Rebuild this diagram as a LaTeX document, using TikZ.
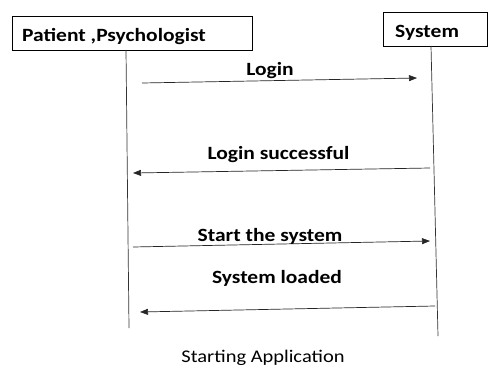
\documentclass[tikz,border=0pt]{standalone}
\usepackage{fontspec}
\setmainfont[FakeStretch=1.15]{Carlito}
\usetikzlibrary{arrows.meta}
\begin{document}
\begin{tikzpicture}[x=1pt,y=-1pt,
  life/.style={line width=0.7pt,draw=black!80},
  msg/.style={line width=0.7pt,draw=black!85,-{Triangle[length=8pt,width=6pt]}},
  lbl/.style={font=\fontsize{18.7}{22}\selectfont\bfseries,inner sep=0pt,anchor=base},
  captext/.style={font=\fontsize{17.8}{22}\selectfont,inner sep=0pt,anchor=base}]
\useasboundingbox (0,0) rectangle (489,372);
\fill[white] (0,0) rectangle (489,372);
% boxes
\draw[line width=0.8pt] (12,16) rectangle (252,50);
\node[lbl,anchor=base west] (pp) at (22,41) {Patient ,Psychologist};
\draw[line width=0.8pt] (383,12) rectangle (487,46);
\node[lbl,anchor=base west] (sys) at (395,37) {System};
% lifelines
\coordinate (l1) at (126,50); \coordinate (l2) at (129,328);
\coordinate (r1) at (431,46); \coordinate (r2) at (438,336);
\draw[life] (l1) -- (l2);
\draw[life] (r1) -- (r2);
% messages
\coordinate (a1) at (142,83); \coordinate (a2) at (417,78);
\draw[msg] (a1) -- (a2);
\node[lbl] (m1) at (270,75) {Login};
\coordinate (b1) at (430,168); \coordinate (b2) at (133,173);
\draw[msg] (b1) -- (b2);
\node[lbl] (m2) at (278.5,159) {Login successful};
\coordinate (c1) at (133,247); \coordinate (c2) at (430,241);
\draw[msg] (c1) -- (c2);
\node[lbl] (m3) at (270,241) {Start the system};
\coordinate (d1) at (435,306); \coordinate (d2) at (140,312);
\draw[msg] (d1) -- (d2);
\node[lbl] (m4) at (277,283) {System loaded};
\node[captext] (capt) at (263,362) {Starting Application};
\end{tikzpicture}
\end{document}
